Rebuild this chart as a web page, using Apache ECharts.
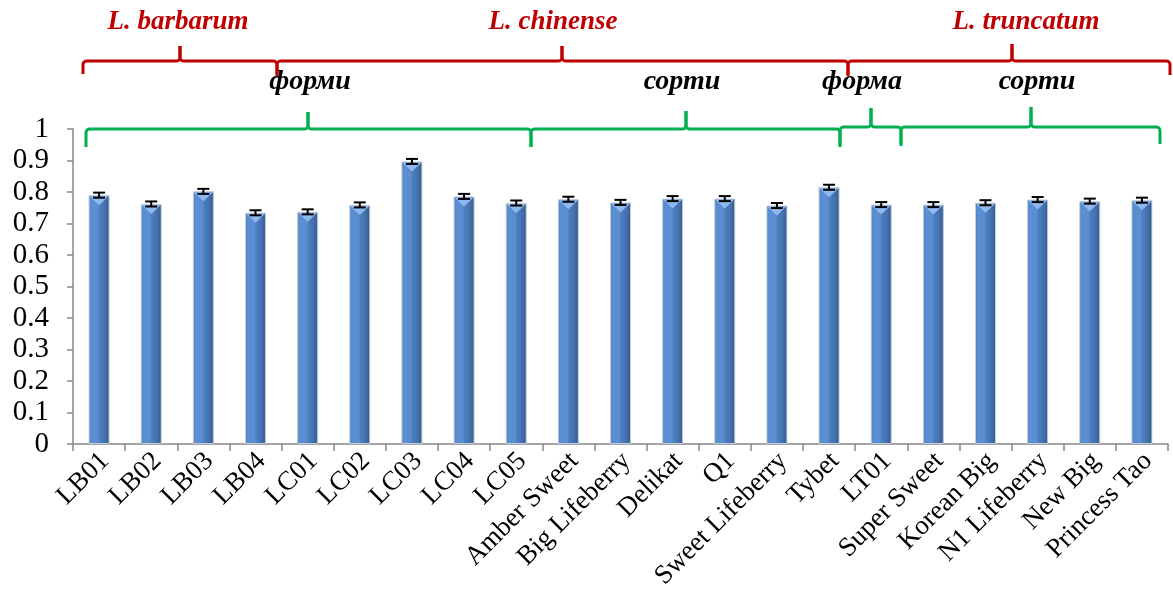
<!DOCTYPE html>
<html>
<head>
<meta charset="utf-8">
<script src="https://cdn.jsdelivr.net/npm/echarts@6/dist/echarts.min.js"></script>
<style>
  html, body { margin: 0; padding: 0; background: #fff; }
  #main { width: 1173px; height: 611px; }
</style>
</head>
<body>
<div id="main"></div>
<script>
// categories and values
var categories = ['LB01', 'LB02', 'LB03', 'LB04', 'LC01', 'LC02', 'LC03', 'LC04', 'LC05',
  'Amber Sweet', 'Big Lifeberry', 'Delikat', 'Q1', 'Sweet Lifeberry', 'Tybet',
  'LT01', 'Super Sweet', 'Korean Big', 'N1 Lifeberry', 'New Big', 'Princess Tao'];
var values = [0.790, 0.762, 0.802, 0.734, 0.737, 0.759, 0.897, 0.786, 0.765,
  0.777, 0.767, 0.779, 0.779, 0.757, 0.815,
  0.760, 0.760, 0.766, 0.776, 0.771, 0.774];
var errors = [0.008, 0.008, 0.008, 0.008, 0.008, 0.008, 0.008, 0.008, 0.008,
  0.008, 0.008, 0.008, 0.008, 0.008, 0.008,
  0.008, 0.008, 0.008, 0.008, 0.008, 0.008];
var yTicks = { min: 0, max: 1, interval: 0.1 };

var serif = "'Liberation Serif', 'Times New Roman', serif";
var chart = echarts.init(document.getElementById('main'));

// quarter-curve corner between two points, approximated with a few points
function corner(ax, ay, cx, cy, bx, by) {
  var pts = [];
  for (var t = 0; t <= 1.001; t += 0.25) {
    var u = 1 - t;
    pts.push([u * u * ax + 2 * u * t * cx + t * t * bx, u * u * ay + 2 * u * t * cy + t * t * by]);
  }
  return pts;
}

// curly brace: ends go down, middle tip goes up
function brace(x0, xm, x1, y, tipY, endY, color) {
  var r = 4;
  var left = [[x0, endY]]
    .concat(corner(x0, y + r, x0, y, x0 + r, y))
    .concat(corner(xm - r, y, xm, y, xm, y - r))
    .concat([[xm, tipY]]);
  var right = [[x1, endY]]
    .concat(corner(x1, y + r, x1, y, x1 - r, y))
    .concat(corner(xm + r, y, xm, y, xm, y - r))
    .concat([[xm, tipY]]);
  var st = { fill: null, stroke: color, lineWidth: 3 };
  return {
    type: 'group',
    silent: true,
    children: [
      { type: 'polyline', shape: { points: left }, style: st },
      { type: 'polyline', shape: { points: right }, style: st }
    ]
  };
}

function label(text, x, y, color, size) {
  return {
    type: 'text',
    x: x, y: y,
    style: {
      text: text, fill: color,
      font: 'italic bold ' + size + 'px ' + serif,
      align: 'center', verticalAlign: 'middle'
    },
    silent: true
  };
}

var red = '#c00000', green = '#00b050';

var barColor = {
  type: 'linear', x: 0, y: 0, x2: 1, y2: 0,
  colorStops: [
    { offset: 0, color: '#4877b8' },
    { offset: 0.12, color: '#5b8fd2' },
    { offset: 0.45, color: '#5a8ed1' },
    { offset: 0.52, color: '#4d7fc0' },
    { offset: 0.78, color: '#4471ae' },
    { offset: 1, color: '#355887' }
  ]
};

chart.setOption({
  animation: false,
  grid: { left: 73, right: 5, top: 129, bottom: 167 },
  xAxis: {
    type: 'category',
    data: categories,
    axisLine: { lineStyle: { color: '#888', width: 1.5 } },
    axisTick: { show: true, length: 7, lineStyle: { color: '#888', width: 1.5 } },
    axisLabel: {
      interval: 0, rotate: 45, margin: 7, verticalAlign: 'top', lineHeight: 17,
      color: '#000', fontFamily: serif, fontSize: 27
    }
  },
  yAxis: {
    type: 'value',
    min: yTicks.min, max: yTicks.max, interval: yTicks.interval,
    splitLine: { show: false },
    axisLine: { show: true, lineStyle: { color: '#888', width: 1.5 } },
    axisTick: { show: true, length: 6, lineStyle: { color: '#888', width: 1.5 } },
    axisLabel: { color: '#000', fontFamily: serif, fontSize: 29, margin: 24 }
  },
  series: [
    {
      type: 'bar',
      data: values,
      barWidth: 21,
      itemStyle: { color: barColor, borderColor: '#c3cedd', borderWidth: 1 }
    },
    {
      type: 'custom',
      data: values.map(function (v, i) { return [i, v, errors[i]]; }),
      z: 5,
      renderItem: function (params, api) {
        var i = api.value(0), v = api.value(1), e = api.value(2);
        var top = api.coord([i, v]);
        var hi = api.coord([i, v + e]);
        var lo = api.coord([i, v - e]);
        var w = 21, cx = top[0], cap = 6;
        var ls = { stroke: '#000', lineWidth: 2 };
        return {
          type: 'group',
          children: [
            { type: 'polygon', shape: { points: [[cx - w / 2 + 1, top[1] + 1], [cx + w / 2 - 1, top[1] + 1], [cx, top[1] + 10]] },
              style: { fill: '#8fb8ee' } },
            { type: 'line', shape: { x1: cx, y1: hi[1], x2: cx, y2: lo[1] }, style: ls },
            { type: 'line', shape: { x1: cx - cap, y1: hi[1], x2: cx + cap, y2: hi[1] }, style: ls },
            { type: 'line', shape: { x1: cx - cap, y1: lo[1], x2: cx + cap, y2: lo[1] }, style: ls }
          ]
        };
      }
    }
  ],
  graphic: [
    brace(83, 180, 277, 61, 46, 74, red),
    brace(277, 562, 848, 61, 46, 76, red),
    brace(848, 1012, 1170, 61, 44, 75, red),
    brace(86, 308, 531, 129, 112, 147, green),
    brace(531, 686, 840, 129, 111, 147, green),
    brace(840, 871, 901, 127, 108, 146, green),
    brace(901, 1031, 1160, 127, 107, 144, green),
    label('L. barbarum', 178, 22, red, 27),
    label('L. chinense', 553, 22, red, 27),
    label('L. truncatum', 1026, 22, red, 27),
    label('форми', 310, 82, '#000', 28),
    label('сорти', 682, 82, '#000', 28),
    label('форма', 862, 82, '#000', 28),
    label('сорти', 1037, 82, '#000', 28)
  ]
});
</script>
</body>
</html>
